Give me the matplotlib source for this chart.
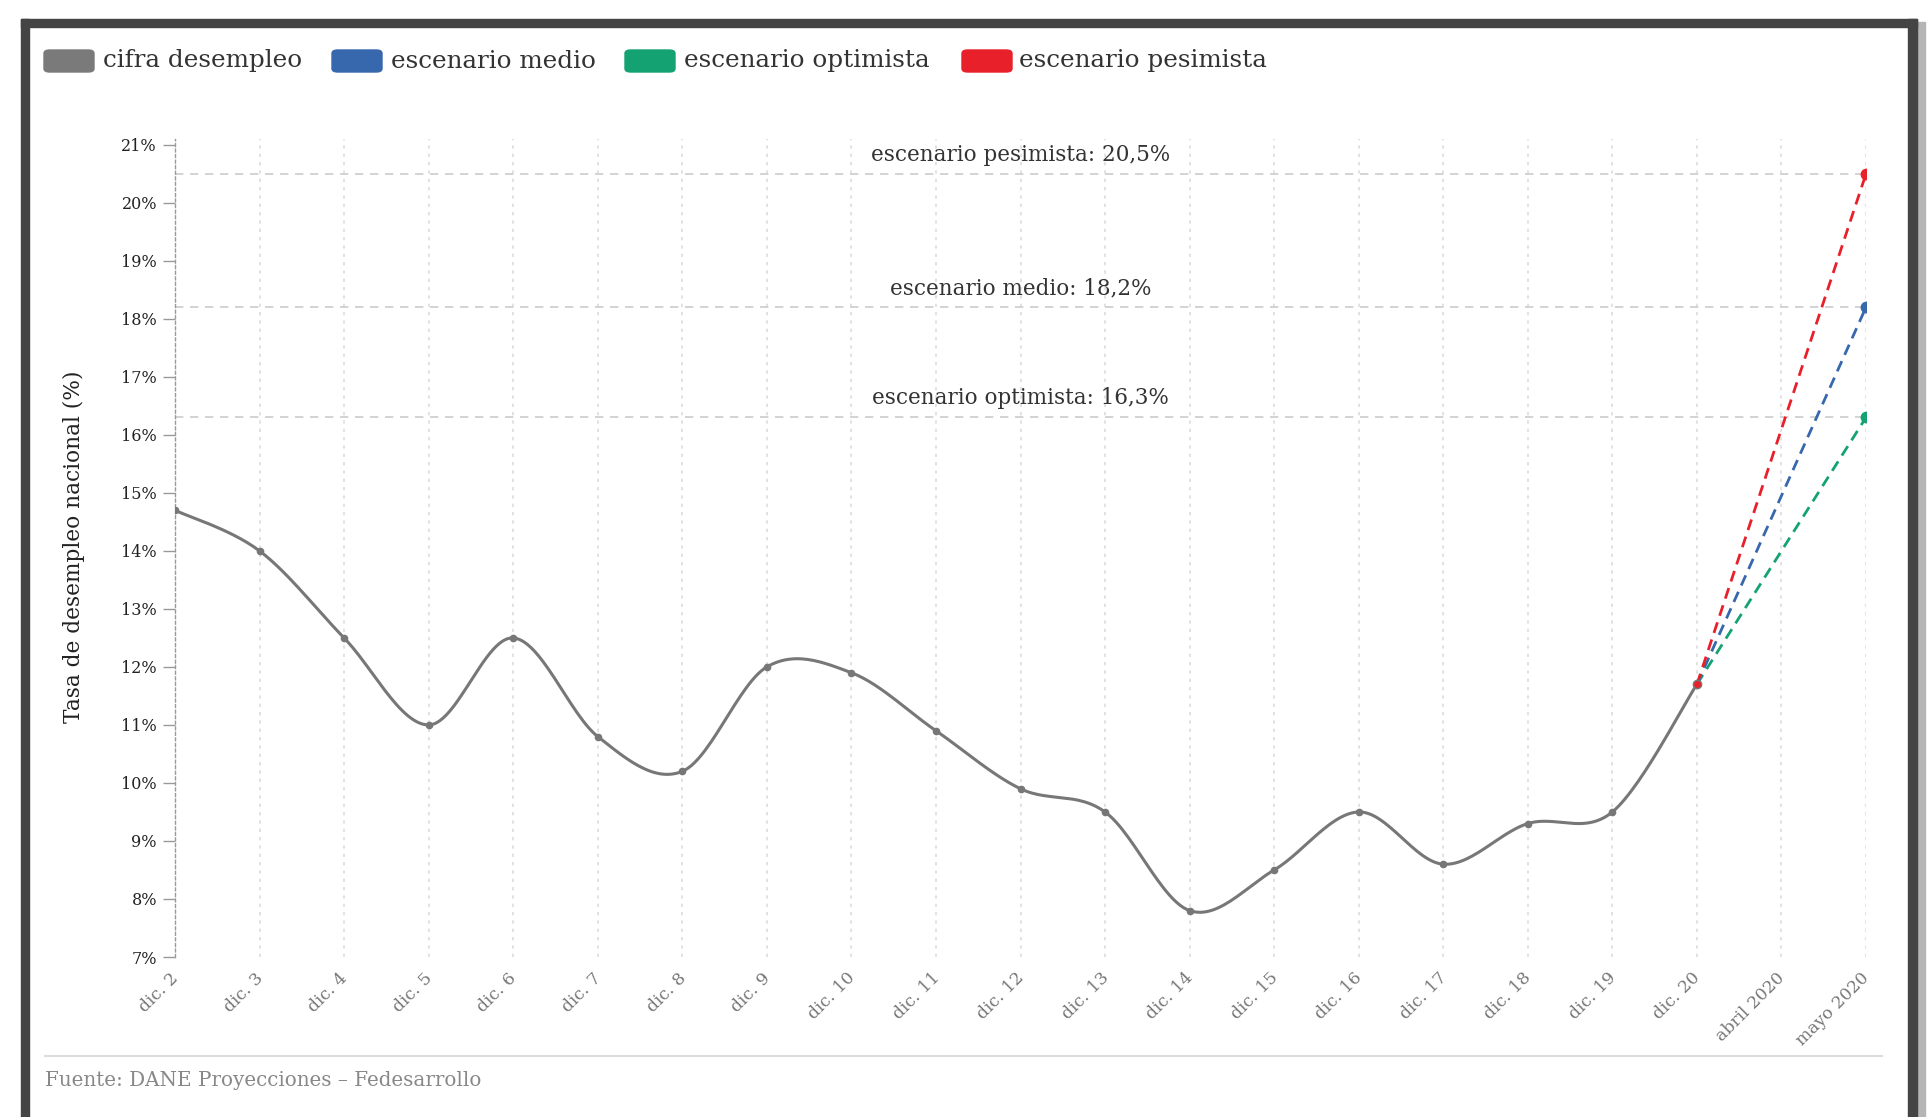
import matplotlib
matplotlib.use("Agg")
import matplotlib.pyplot as plt
import matplotlib.transforms as mtransforms
from matplotlib.patches import Rectangle, FancyBboxPatch
import numpy as np

# datos
meses = ["dic. 2", "dic. 3", "dic. 4", "dic. 5", "dic. 6", "dic. 7", "dic. 8",
         "dic. 9", "dic. 10", "dic. 11", "dic. 12", "dic. 13", "dic. 14",
         "dic. 15", "dic. 16", "dic. 17", "dic. 18", "dic. 19", "dic. 20",
         "abril 2020", "mayo 2020"]
desempleo = [14.7, 14.0, 12.5, 11.0, 12.5, 10.8, 10.2, 12.0, 11.9, 10.9,
             9.9, 9.5, 7.8, 8.5, 9.5, 8.6, 9.3, 9.5, 11.7]
esc_nombres = ["escenario optimista", "escenario medio", "escenario pesimista"]
esc_valores = [16.3, 18.2, 20.5]
esc_etiquetas = ["16,3%", "18,2%", "20,5%"]

W, H = 1928, 1117
FONT = "DejaVu Serif"
col_gris = "#777777"
colores = {"cifra desempleo": "#7a7a7a", "escenario medio": "#3767ac",
           "escenario optimista": "#14a273", "escenario pesimista": "#e8202a"}


def px(x, y):
    # pixeles (desde arriba-izquierda) -> fraccion de figura
    return x / W, 1 - y / H


def catmull_rom(xs, ys, n=30):
    xs = np.asarray(xs, float)
    ys = np.asarray(ys, float)
    px_ = np.concatenate([[xs[0]], xs, [xs[-1]]])
    py_ = np.concatenate([[ys[0]], ys, [ys[-1]]])
    t = np.linspace(0, 1, n)[:, None]
    out_x, out_y = [], []
    for i in range(1, len(px_) - 2):
        p0 = np.array([px_[i], py_[i]])
        p3 = np.array([px_[i + 1], py_[i + 1]])
        c1 = p0 + (np.array([px_[i + 1], py_[i + 1]]) - np.array([px_[i - 1], py_[i - 1]])) / 6
        c2 = p3 - (np.array([px_[i + 2], py_[i + 2]]) - np.array([px_[i], py_[i]])) / 6
        b = ((1 - t) ** 3) * p0 + 3 * ((1 - t) ** 2) * t * c1 + 3 * (1 - t) * t ** 2 * c2 + t ** 3 * p3
        out_x.append(b[:, 0])
        out_y.append(b[:, 1])
    return np.concatenate(out_x), np.concatenate(out_y)


fig = plt.figure(figsize=(W / 100, H / 100), dpi=100)
fig.patch.set_facecolor("white")

# marco
fig.add_artist(Rectangle(px(1917, 1117), 8 / W, (1117 - 22) / H, transform=fig.transFigure,
                         color="#b5b5b5", zorder=0))
fig.add_artist(Rectangle(px(21, 1117), 8 / W, (1117 - 19) / H, transform=fig.transFigure,
                         color="#444444", zorder=1))
fig.add_artist(Rectangle(px(1908, 1117), 9 / W, (1117 - 19) / H, transform=fig.transFigure,
                         color="#444444", zorder=1))
fig.add_artist(Rectangle(px(21, 27), (1917 - 21) / W, 8 / H, transform=fig.transFigure,
                         color="#444444", zorder=1))

left, right = px(175, 0)[0], px(1866, 0)[0]
bottom, top = px(0, 957)[1], px(0, 139)[1]
ax = fig.add_axes([left, bottom, right - left, top - bottom])

x = np.arange(len(meses))
ax.set_xlim(0, len(meses) - 1)
ax.set_ylim(7, 21.1)

# grilla vertical punteada
for xi in x:
    ax.axvline(xi, color="#dddddd", lw=1.2, ls=(0, (2, 3)), zorder=1)

# lineas de referencia de escenarios
for v, nom, et in zip(esc_valores, esc_nombres, esc_etiquetas):
    ax.axhline(v, color="#cccccc", lw=1.2, ls=(0, (5, 4)), zorder=1)
    ax.text((len(meses) - 1) / 2, v + 0.14, f"{nom}: {et}", ha="center", va="bottom",
            fontsize=15.5, color="#333333", family=FONT)

# serie historica
xs, ys = catmull_rom(x[:len(desempleo)], desempleo)
ax.plot(xs, ys, color=col_gris, lw=2.2, zorder=3)
ax.plot(x[:len(desempleo)], desempleo, "o", color=col_gris, ms=4.5, zorder=4)

# escenarios
i0 = len(desempleo) - 1
for v, nom in zip(esc_valores, esc_nombres):
    c = colores[nom]
    ax.plot([x[i0], x[-1]], [desempleo[-1], v], color=c, lw=2, ls=(0, (4, 2.5)), zorder=5)
    ax.plot([x[-1]], [v], "o", color=c, ms=7.5, zorder=6)
ax.plot([x[i0]], [desempleo[-1]], "o", color=colores["escenario pesimista"], ms=6,
        mec=col_gris, mew=1, zorder=6)

# ejes
for s in ["top", "right", "bottom"]:
    ax.spines[s].set_visible(False)
ax.spines["left"].set_color("#999999")
ax.spines["left"].set_linestyle((0, (2, 2)))
ax.spines["left"].set_linewidth(1)
ax.set_yticks(np.arange(7, 22))
ax.set_yticklabels([f"{v}%" for v in range(7, 22)], fontsize=11.5, color="#222222",
                   family=FONT)
ax.tick_params(axis="y", length=9, color="#999999", width=1, pad=4)
ax.set_xticks(x)
ax.set_xticklabels(meses, rotation=45, ha="right", rotation_mode="anchor", fontsize=12.3,
                   color=col_gris, family=FONT)
ax.tick_params(axis="x", length=0, pad=9)
desp = mtransforms.ScaledTranslation(-5 / 100, 0, fig.dpi_scale_trans)
for lab in ax.get_xticklabels():
    lab.set_transform(lab.get_transform() + desp)
fig.text(*px(74, 547), "Tasa de desempleo nacional (%)", rotation=90, ha="center",
         va="center", fontsize=15.6, color="#222222", family=FONT)

# leyenda
leg = [("cifra desempleo", 44, 103), ("escenario medio", 332, 391),
       ("escenario optimista", 625, 684), ("escenario pesimista", 962, 1019)]
for nom, xp, xt in leg:
    x0, y0 = px(xp, 72)
    fig.add_artist(FancyBboxPatch((x0, y0), 50 / W, 22 / H, transform=fig.transFigure,
                                  boxstyle="round,pad=0,rounding_size=0.003",
                                  color=colores[nom], zorder=2))
    fig.text(*px(xt, 61), nom, fontsize=17.7, color="#333333", family=FONT, va="center")

# pie
fig.add_artist(plt.Line2D([px(45, 0)[0], px(1882, 0)[0]], [px(0, 1056)[1]] * 2,
                          color="#dddddd", lw=1.5, transform=fig.transFigure))
fig.text(*px(45, 1081), "Fuente: DANE Proyecciones – Fedesarrollo", fontsize=14.3,
         color="#888888", family=FONT, va="center")

fig.savefig("out.png", dpi=100)
